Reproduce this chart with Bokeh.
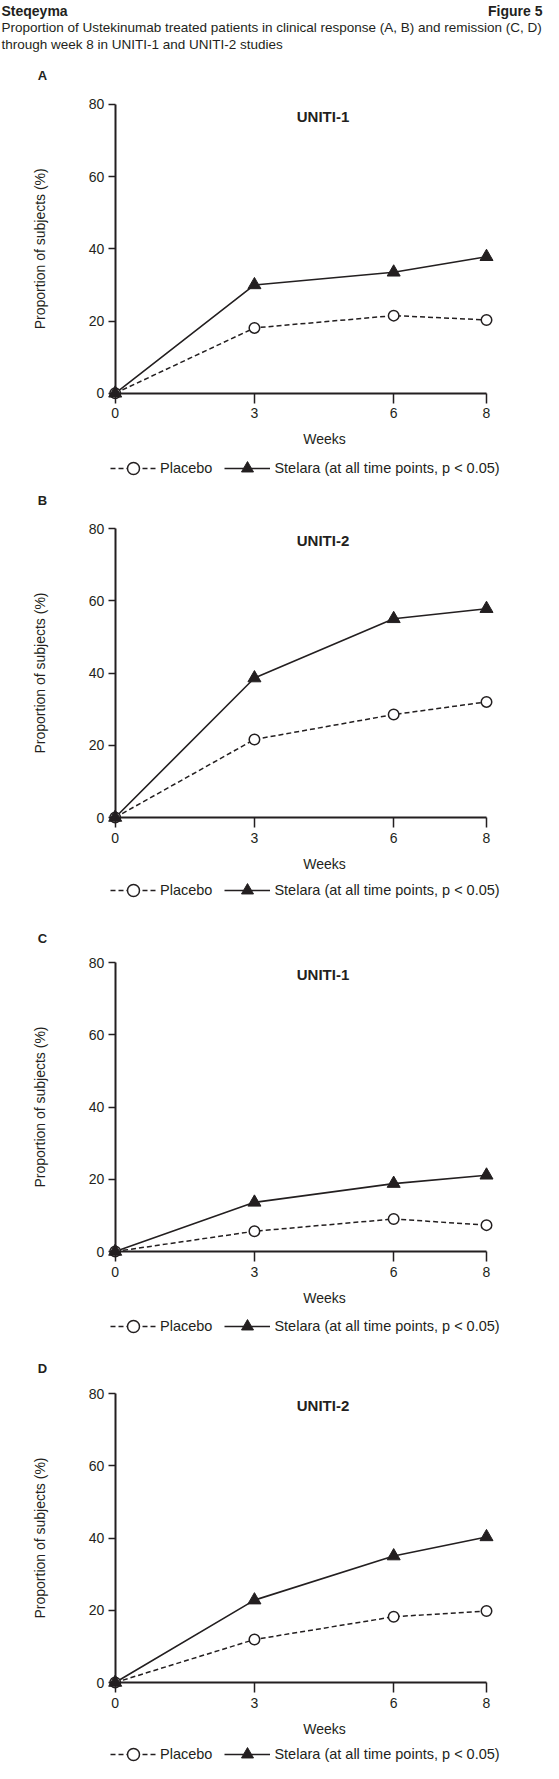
import math
from bokeh.plotting import figure
from bokeh.models import Range1d, FixedTicker, Legend, LegendItem, Label, ColumnDataSource
from bokeh.layouts import column
from bokeh.embed import file_html
from bokeh.resources import INLINE

# ---------------- data ----------------
weeks = [0, 3, 6, 8]
placebo_A = [0, 18.1, 21.5, 20.3]
stelara_A = [0, 30.0, 33.5, 37.8]
placebo_B = [0, 21.6, 28.5, 32.0]
stelara_B = [0, 38.6, 55.0, 57.8]
placebo_C = [0, 5.6, 9.0, 7.3]
stelara_C = [0, 13.6, 18.8, 21.1]
placebo_D = [0, 11.9, 18.2, 19.8]
stelara_D = [0, 22.8, 35.0, 40.3]

x_ticks = [0, 3, 6, 8]
y_ticks = [0, 20, 40, 60, 80]
panel_letters = ["A", "B", "C", "D"]
study_names = ["UNITI-1", "UNITI-2", "UNITI-1", "UNITI-2"]
series_names = ["Placebo", "Stelara (at all time points, p < 0.05)"]
x_label = "Weeks"
y_label = "Proportion of subjects (%)"
header_left = "Steqeyma"
header_right = "Figure 5"
subtitle_lines = [
    "Proportion of Ustekinumab treated patients in clinical response (A, B) and remission (C, D)",
    "through week 8 in UNITI-1 and UNITI-2 studies",
]

# ---------------- layout / style ----------------
FONT = "Liberation Sans"
INK = "#231f20"
W = 543
PAGE = 8                 # page margin
X0 = 122.7               # page x of week 0
X8 = 494.0               # page x of week 8
PXW = (X8 - X0) / 8.0
PYU = 289.0 / 80.0       # px per percentage point

# per panel: page top of figure, height, page y of the 0 line, page y of legend centre, page y of letter
panel_geo = [
    (8, 484, 400.8, 476, 83),
    (492, 430, 825.0, 898, 508),
    (922, 434, 1259.0, 1334, 946),
    (1356, 415, 1690.0, 1762, 1376),
]
placebos = [placebo_A, placebo_B, placebo_C, placebo_D]
stelaras = [stelara_A, stelara_B, stelara_C, stelara_D]


def wx(page_x):
    return (page_x - X0) / PXW


def add_text(p, x, y, text, size="14px", bold=False, align="left", angle=0.0):
    p.add_layout(Label(x=x, y=y, text=text, text_font=FONT, text_font_size=size,
                       text_font_style="bold" if bold else "normal", text_color=INK,
                       text_align=align, text_baseline="middle", angle=angle))


figs = []
for i in range(4):
    T, h, Z, leg_y, let_y = panel_geo[i]

    def wy(page_y, Z=Z):
        return (Z - page_y) / PYU

    p = figure(width=W, height=h,
               x_range=Range1d(wx(PAGE), wx(PAGE + W)),
               y_range=Range1d(wy(T + h), wy(T)),
               output_backend="svg", toolbar_location=None, title=None,
               min_border_left=0, min_border_right=0, min_border_top=0, min_border_bottom=0)
    p.outline_line_color = None
    p.xgrid.visible = False
    p.ygrid.visible = False
    p.background_fill_color = "white"
    p.border_fill_color = "white"

    for ax in (p.xaxis, p.yaxis):
        ax.fixed_location = 0
        ax.axis_line_color = INK
        ax.axis_line_width = 2
        ax.major_tick_line_color = INK
        ax.major_tick_line_width = 1.5
        ax.major_tick_in = 0
        ax.minor_tick_line_color = None
        ax.major_label_text_font = FONT
        ax.major_label_text_font_size = "14px"
        ax.major_label_text_color = INK
    p.xaxis.bounds = (0, 8)
    p.yaxis.bounds = (0, 80)
    p.xaxis.ticker = FixedTicker(ticks=x_ticks)
    p.yaxis.ticker = FixedTicker(ticks=y_ticks)
    p.xaxis.major_tick_out = 10
    p.yaxis.major_tick_out = 7
    p.xaxis.major_label_standoff = 5
    p.yaxis.major_label_standoff = 4

    src = ColumnDataSource(dict(week=weeks, placebo=placebos[i], stelara=stelaras[i]))
    r1 = p.line("week", "placebo", source=src, line_dash="5 3", line_width=1.5, line_color=INK)
    r3 = p.line("week", "stelara", source=src, line_width=1.6, line_color=INK)
    r2 = p.scatter("week", "placebo", source=src, marker="circle", size=10.5,
                   fill_color="white", line_color=INK, line_width=1.5)
    r4 = p.scatter("week", "stelara", source=src, marker="triangle", size=13,
                   fill_color=INK, line_color=INK, line_width=1)

    lh = 30
    leg_bottom_from_fig_bottom = (T + h) - leg_y - lh / 2
    legend = Legend(items=[LegendItem(label=series_names[0], renderers=[r1, r2]),
                           LegendItem(label=series_names[1], renderers=[r3, r4])],
                    location=(118 - PAGE, leg_bottom_from_fig_bottom), orientation="horizontal",
                    glyph_width=46, glyph_height=lh, label_standoff=4, spacing=12,
                    padding=0, margin=0, border_line_color=None, background_fill_alpha=0,
                    label_text_font=FONT, label_text_font_size="14.5px", label_text_color=INK,
                    label_text_baseline="middle")
    p.add_layout(legend)

    # panel letter, study name, axis titles
    add_text(p, wx(50), wy(let_y), panel_letters[i], size="13px", bold=True, align="center")
    add_text(p, wx(330.5), 76.6, study_names[i], size="15px", bold=True, align="center")
    add_text(p, wx(332), wy(Z + 46), x_label, size="14px", align="center")
    add_text(p, wx(47), 40, y_label, size="14px", align="center", angle=math.pi / 2)

    if i == 0:
        add_text(p, wx(PAGE + 1), wy(PAGE + 10), header_left, size="14px", bold=True, align="left")
        add_text(p, wx(PAGE + W - 1), wy(PAGE + 10), header_right, size="14px", bold=True, align="right")
        add_text(p, wx(PAGE + 1), wy(35), subtitle_lines[0], size="13.5px", align="left")
        add_text(p, wx(PAGE + 1), wy(52), subtitle_lines[1], size="13.5px", align="left")

    figs.append(p)

layout = column(*figs)
open("out.html", "w").write(file_html(layout, INLINE))
